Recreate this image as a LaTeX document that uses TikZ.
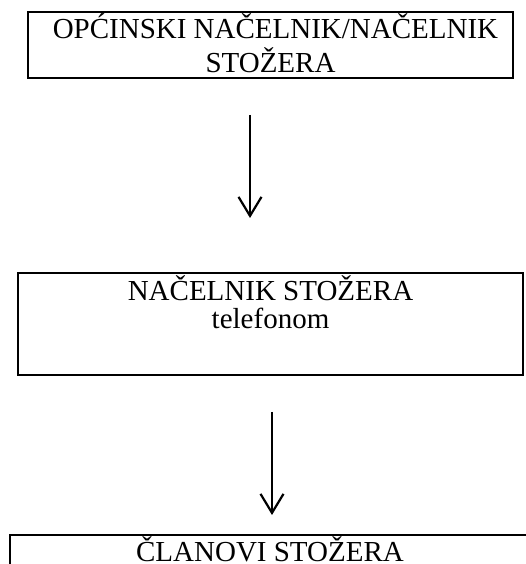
\documentclass[tikz,border=0pt]{standalone}
\usepackage{fontspec}
\setmainfont{Liberation Serif}
\usetikzlibrary{arrows.meta}
\begin{document}
\begin{tikzpicture}[x=1pt,y=1pt,
  box/.style={draw=black, line width=2.5pt, inner xsep=0pt, inner ysep=0pt, outer sep=0pt,
    align=center, anchor=north, font=\fontsize{29}{34}\selectfont},
  flow/.style={line width=2.2pt, -{Straight Barb[length=19pt,width=23pt,line width=2.2pt]}}]
\clip (0,0) rectangle (526,564);
\node[box, minimum width=485pt, text height=61pt, text depth=5pt] (b1) at (270.5,552)
  {\hspace*{10pt}OPĆINSKI NAČELNIK/NAČELNIK\\STOŽERA};
\node[box, minimum width=505pt, text height=56pt, text depth=46pt,
  font=\fontsize{29}{28}\selectfont] (b2) at (270.5,291)
  {NAČELNIK STOŽERA\\telefonom};
\node[box, minimum width=520pt, text height=27pt, text depth=40pt] (b3) at (270,29)
  {ČLANOVI STOŽERA};
\coordinate (a1s) at ([xshift=-20.5pt,yshift=-37pt]b1.south);
\coordinate (a1e) at ([xshift=-20.5pt,yshift=55pt]b2.north);
\coordinate (a2s) at ([xshift=1.5pt,yshift=-37pt]b2.south);
\coordinate (a2e) at ([xshift=2pt,yshift=20pt]b3.north);
\draw[flow] (a1s) -- (a1e);
\draw[flow] (a2s) -- (a2e);
\end{tikzpicture}
\end{document}
